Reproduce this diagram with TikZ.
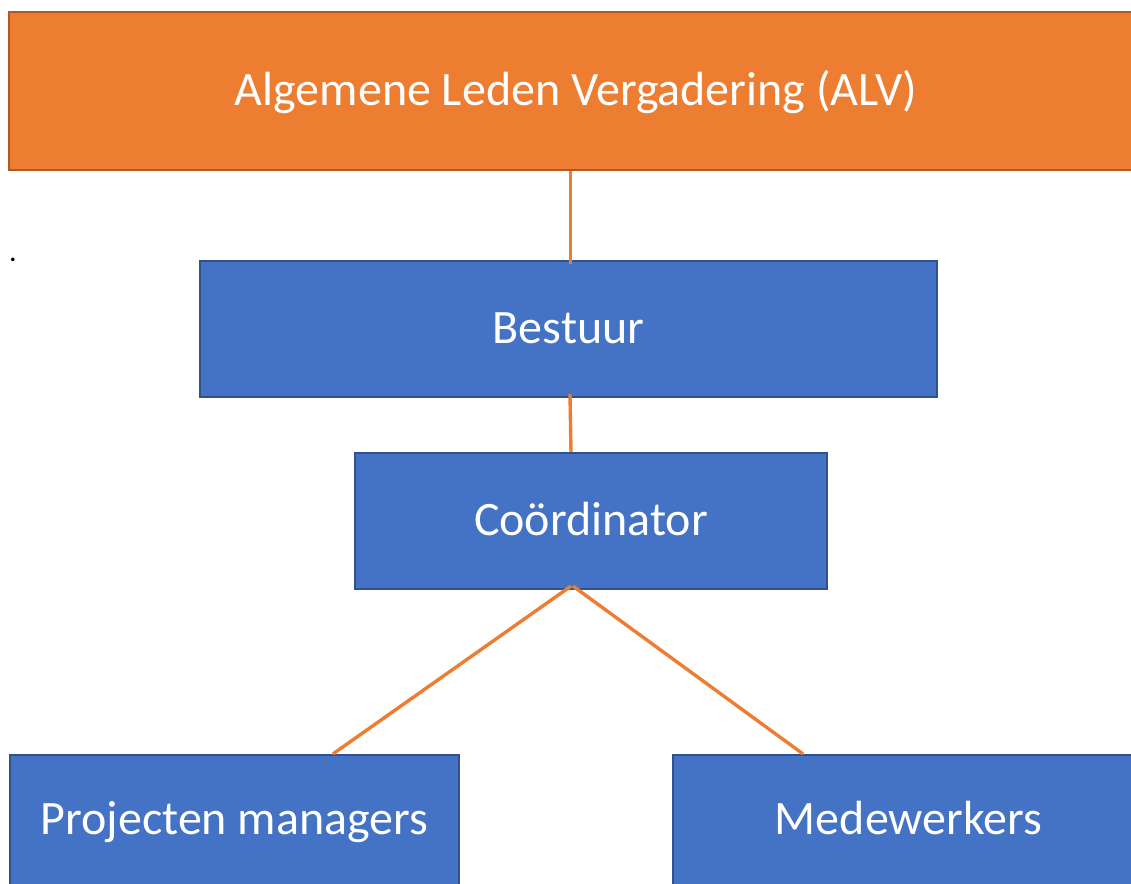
\documentclass[tikz,border=0pt]{standalone}
\usepackage{fontspec}
\setmainfont{Carlito}
\usepackage{xcolor}
\usepackage{tikz}
\usetikzlibrary{positioning,calc}
\definecolor{alvorange}{HTML}{ED7D31}
\definecolor{alvborder}{HTML}{AE5A21}
\definecolor{boxblue}{HTML}{4472C4}
\definecolor{boxborder}{HTML}{2F528F}

\begin{document}
\begin{tikzpicture}[x=0.5pt,y=-0.5pt,font=\fontsize{24}{29}\selectfont]
  \tikzstyle{orgbox}=[rectangle,draw=boxborder,fill=boxblue,text=white,line width=1.1pt,inner sep=0pt,text height=19.5pt,text depth=5pt]
  \tikzstyle{topbox}=[orgbox,draw=alvborder,fill=alvorange]
  \tikzstyle{link}=[draw=alvorange,line width=1.7pt]

  \useasboundingbox (0,0) rectangle (1131,884);

  \node[topbox,minimum width=567pt,minimum height=78.75pt] (ALV) at (576,91) {Algemene Leden Vergadering (ALV)};
  \node[orgbox,minimum width=368.5pt,minimum height=68pt] (BESTUUR) at (568.5,329) {Bestuur};
  \node[orgbox,minimum width=236pt,minimum height=68pt] (COORD) at (591,521) {Coördinator};
  \node[orgbox,minimum width=224.5pt,minimum height=65pt] (PM) at (234.5,820) {Projecten managers};
  \node[orgbox,minimum width=235.5pt,minimum height=65pt] (MW) at (908.5,820) {Medewerkers};

  \node[anchor=base,inner sep=0pt,font=\fontsize{15}{18}\selectfont] (dot) at (13,261) {.};

  \draw[link] ([xshift=-2.75pt]ALV.south) -- ([xshift=1pt,yshift=-2pt]BESTUUR.north);
  \draw[link] ([xshift=0.75pt,yshift=2pt]BESTUUR.south) -- ([xshift=-10pt]COORD.north);
  \draw[link] ([xshift=-10pt,yshift=2pt]COORD.south) -- ([xshift=49.25pt]PM.north);
  \draw[link] ([xshift=-9pt,yshift=2pt]COORD.south) -- ([xshift=-52.75pt]MW.north);
\end{tikzpicture}
\end{document}
